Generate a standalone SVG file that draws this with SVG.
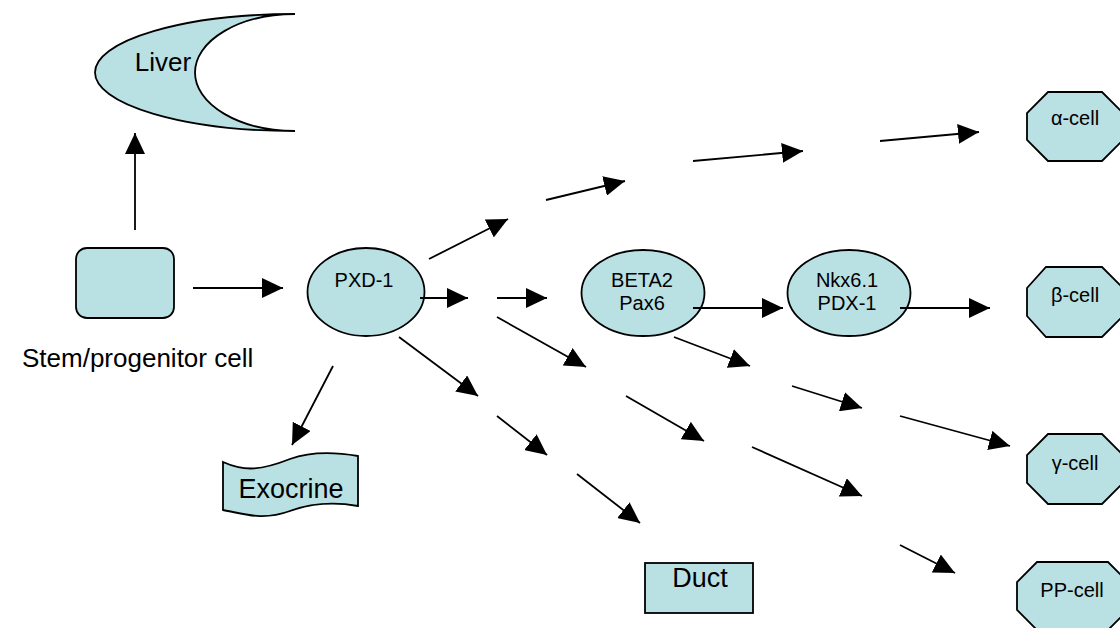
<svg xmlns="http://www.w3.org/2000/svg" width="1120" height="628" viewBox="0 0 1120 628">
<style>
.shape{fill:#b9e0e3;stroke:#000;stroke-width:1.8}
.big{font-family:"Liberation Sans",Arial,sans-serif;font-size:26px;fill:#000}
.lab{font-family:"Liberation Sans",Arial,sans-serif;font-size:27px;fill:#000}
.small{font-family:"Liberation Sans",Arial,sans-serif;font-size:20px;fill:#000}
.mid{text-anchor:middle}
#connectors line{stroke:#000;stroke-width:1.8;marker-end:url(#ah)}
</style>
<defs>
<marker id="ah" markerUnits="userSpaceOnUse" markerWidth="22" markerHeight="20" refX="21" refY="10" orient="auto">
<path d="M0,0 L21,10 L0,20 Z" fill="#000"/>
</marker>
</defs>
<rect width="1120" height="628" fill="#fff"/>
<g id="liver">
<path class="shape" d="M295,14 A200,58.5 0 0 0 295,131 A100,58.5 0 0 1 295,14 Z"/>
<text class="big mid" x="163" y="71">Liver</text>
</g>
<g id="stem">
<rect class="shape" x="76" y="248" width="98" height="70" rx="11"/>
<text class="big" x="22" y="367">Stem/progenitor cell</text>
</g>
<g id="pxd1">
<ellipse class="shape" cx="366" cy="292" rx="58.5" ry="44"/>
<text class="small mid" x="364" y="287">PXD-1</text>
</g>
<g id="exocrine">
<path class="shape" d="M223,462 C245,472 262,470 290,459 C312,451 335,452 358,456 L358,506 C335,502 312,503 290,511 C262,521 245,514 223,510 Z"/>
<text class="lab mid" x="291" y="498">Exocrine</text>
</g>
<g id="beta2">
<ellipse class="shape" cx="643" cy="293" rx="61.5" ry="43"/>
<text class="small mid" x="642" y="287">BETA2</text>
<text class="small mid" x="642" y="310">Pax6</text>
</g>
<g id="nkx">
<ellipse class="shape" cx="849" cy="293" rx="61.5" ry="43"/>
<text class="small mid" x="847" y="287">Nkx6.1</text>
<text class="small mid" x="847" y="310">PDX-1</text>
</g>
<g id="duct">
<rect class="shape" x="645" y="563" width="108" height="50"/>
<text class="lab mid" x="700" y="587">Duct</text>
</g>
<g id="alpha">
<polygon class="shape" points="1048,92 1102,92 1123,113 1123,140 1102,161 1048,161 1027,140 1027,113"/>
<text class="small mid" x="1075" y="125">α-cell</text>
</g>
<g id="beta">
<polygon class="shape" points="1046,267 1102,267 1123,288 1123,316 1102,337 1046,337 1027,316 1027,288"/>
<text class="small mid" x="1075" y="302">β-cell</text>
</g>
<g id="gamma">
<polygon class="shape" points="1048,434 1102,434 1123,455 1123,483 1102,504 1048,504 1027,483 1027,455"/>
<text class="small mid" x="1075" y="470">γ-cell</text>
</g>
<g id="pp">
<polygon class="shape" points="1037,562 1108,562 1128,582 1128,610 1108,630 1037,630 1017,610 1017,582"/>
<text class="small mid" x="1072" y="597">PP-cell</text>
</g>
<g id="connectors">
<line x1="135" y1="230" x2="135" y2="133"/>
<line x1="193" y1="288" x2="283" y2="288"/>
<line x1="333" y1="366" x2="292" y2="445"/>
<line x1="429" y1="259" x2="508" y2="219"/>
<line x1="420" y1="298" x2="468" y2="298"/>
<line x1="497" y1="298" x2="547" y2="298"/>
<line x1="546" y1="200" x2="625" y2="181"/>
<line x1="693" y1="161" x2="803" y2="151"/>
<line x1="880" y1="141" x2="979" y2="132"/>
<line x1="693" y1="308" x2="783" y2="308"/>
<line x1="900" y1="308" x2="990" y2="308"/>
<line x1="399" y1="337" x2="478" y2="396"/>
<line x1="497" y1="317" x2="586" y2="367"/>
<line x1="497" y1="416" x2="547" y2="455"/>
<line x1="577" y1="474" x2="640" y2="523"/>
<line x1="626" y1="396" x2="704" y2="441"/>
<line x1="674" y1="337" x2="750" y2="366"/>
<line x1="792" y1="386" x2="862" y2="408"/>
<line x1="900" y1="416" x2="1010" y2="446"/>
<line x1="752" y1="447" x2="862" y2="496"/>
<line x1="900" y1="545" x2="955" y2="573"/>
</g>
</svg>
